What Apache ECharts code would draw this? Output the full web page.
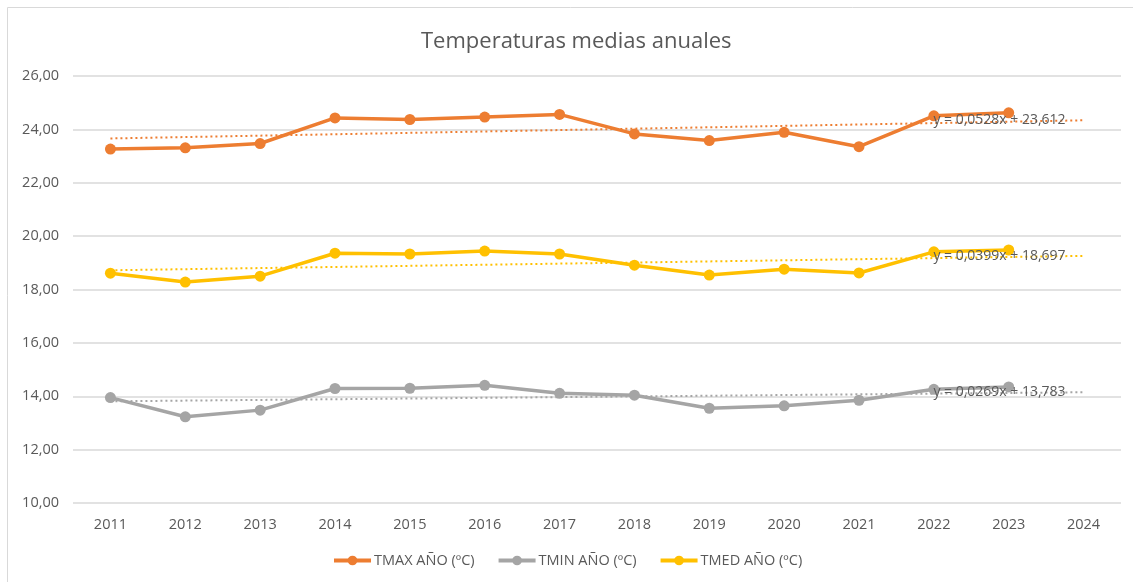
<!DOCTYPE html>
<html>
<head>
<meta charset="utf-8">
<script src="https://cdn.jsdelivr.net/npm/echarts@6/dist/echarts.min.js"></script>
<style>
html,body{margin:0;padding:0;background:#fff;}
#main{width:1133px;height:582px;}
</style>
</head>
<body>
<div id="main"></div>
<script>
// datos
var years = ['2011','2012','2013','2014','2015','2016','2017','2018','2019','2020','2021','2022','2023','2024'];
var tmax = [23.26, 23.31, 23.47, 24.43, 24.37, 24.46, 24.56, 23.83, 23.58, 23.89, 23.35, 24.51, 24.62, null];
var tmin = [13.95, 13.23, 13.48, 14.29, 14.30, 14.41, 14.11, 14.04, 13.55, 13.64, 13.85, 14.26, 14.35, null];
var tmed = [18.61, 18.28, 18.50, 19.36, 19.33, 19.44, 19.33, 18.91, 18.54, 18.76, 18.62, 19.41, 19.48, null];
// lineas de tendencia: extremos leidos (2011 y 2024)
var tmaxTrend = [23.66, null, null, null, null, null, null, null, null, null, null, null, null, 24.34];
var tminTrend = [13.81, null, null, null, null, null, null, null, null, null, null, null, null, 14.15];
var tmedTrend = [18.72, null, null, null, null, null, null, null, null, null, null, null, null, 19.26];
var trendText = ['y = 0,0528x + 23,612', 'y = 0,0269x + 13,783', 'y = 0,0399x + 18,697'];
var yTicks = [10, 12, 14, 16, 18, 20, 22, 24, 26];

var font = 'Open Sans';
var txt = '#595959';

function serie(name, d, color) {
  return {
    name: name, type: 'line', data: d,
    symbol: 'circle', symbolSize: 11,
    lineStyle: {color: color, width: 3.5},
    itemStyle: {color: color},
    z: 3
  };
}
function trend(d, color, label) {
  return {
    type: 'line', data: d, connectNulls: true,
    symbol: 'none', silent: true,
    lineStyle: {color: color, width: 2, type: [2, 3]},
    z: 2,
    markPoint: {
      symbol: 'circle', symbolSize: 0,
      data: [{coord: [13, d[13]], value: label}],
      label: {show: true, position: 'left', distance: 18, formatter: label,
        color: txt, fontSize: 14, fontFamily: font}
    }
  };
}

var chart = echarts.init(document.getElementById('main'));
chart.setOption({
  animation: false,
  title: {
    text: 'Temperaturas medias anuales', left: 416, top: 26,
    textStyle: {color: txt, fontSize: 22, fontWeight: 'normal', fontFamily: font}
  },
  graphic: [{
    type: 'rect', shape: {x: 7.5, y: 7.5, width: 1140, height: 590},
    style: {fill: null, stroke: '#d9d9d9', lineWidth: 1}, silent: true
  }],
  legend: {
    data: ['TMAX AÑO (ºC)', 'TMIN AÑO (ºC)', 'TMED AÑO (ºC)'],
    bottom: 9, left: 327, itemWidth: 37, itemHeight: 12, itemGap: 22,
    lineStyle: {width: 4},
    textStyle: {color: txt, fontSize: 14.5, fontFamily: font, padding: [0, 0, 0, -2]}
  },
  grid: {left: 73, right: 12, top: 76, bottom: 79},
  xAxis: {
    type: 'category', data: years, boundaryGap: true,
    axisLine: {show: false}, axisTick: {show: false},
    axisLabel: {color: txt, fontSize: 14.5, fontFamily: font, margin: 14}
  },
  yAxis: {
    type: 'value', min: yTicks[0], max: yTicks[yTicks.length - 1], interval: 2,
    axisLine: {show: false}, axisTick: {show: false},
    splitLine: {lineStyle: {color: '#d9d9d9', width: 1.5}},
    axisLabel: {color: txt, fontSize: 14.5, fontFamily: font, margin: 14,
      formatter: function (v) { return v.toFixed(2).replace('.', ','); }}
  },
  series: [
    serie('TMAX AÑO (ºC)', tmax, '#ED7D31'),
    serie('TMIN AÑO (ºC)', tmin, '#A5A5A5'),
    serie('TMED AÑO (ºC)', tmed, '#FFC000'),
    trend(tmaxTrend, '#ED7D31', trendText[0]),
    trend(tminTrend, '#A5A5A5', trendText[1]),
    trend(tmedTrend, '#FFC000', trendText[2])
  ]
});
</script>
</body>
</html>
